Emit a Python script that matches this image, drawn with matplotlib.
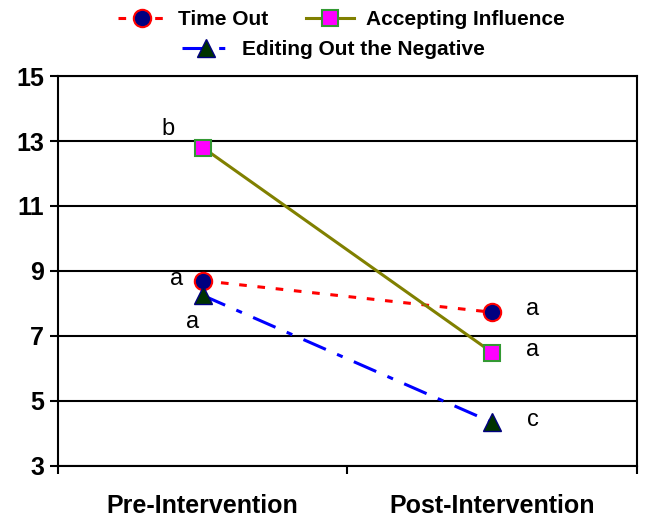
import matplotlib.pyplot as plt

categories = ["Pre-Intervention", "Post-Intervention"]
time_out = [8.7, 7.73]
accepting = [12.8, 6.49]
editing = [8.25, 4.34]
labels_pre = ["a", "b", "a"]
labels_post = ["a", "a", "c"]
yticks = [3, 5, 7, 9, 11, 13, 15]

plt.rcParams['font.family'] = ['Liberation Sans', 'DejaVu Sans']

fig = plt.figure(figsize=(6.49, 5.26), dpi=100)
ax = fig.add_axes([0.0894, 0.1141, 0.892, 0.7414])

x = list(range(len(categories)))

l1, = ax.plot(x, time_out, color="red", linestyle=(0, (2.5, 3.5)), linewidth=2.2,
              marker="o", markersize=12.5, markerfacecolor="#000080",
              markeredgecolor="red", markeredgewidth=1.5, label="Time Out", zorder=4)
l2, = ax.plot(x, accepting, color="#808000", linestyle="-", linewidth=2.2,
              marker="s", markersize=11.5, markerfacecolor="#ff00ff",
              markeredgecolor="#339933", markeredgewidth=1.5, label="Accepting Influence", zorder=4)
l3, = ax.plot(x, editing, color="blue", linestyle=(0, (8, 4, 2, 4)), linewidth=2.2,
              marker="^", markersize=12.5, markerfacecolor="#003300",
              markeredgecolor="#000080", markeredgewidth=1, label="Editing Out the Negative", zorder=5)

# letter labels next to the points
ax.annotate(labels_pre[0], (x[0], time_out[0]), xytext=(-19, 1), textcoords="offset points",
            fontsize=17, ha="center", va="center")
ax.annotate(labels_pre[1], (x[0], accepting[0]), xytext=(-25, 13), textcoords="offset points",
            fontsize=17, ha="center", va="center")
ax.annotate(labels_pre[2], (x[0], editing[0]), xytext=(-7, -19), textcoords="offset points",
            fontsize=17, ha="center", va="center")
for val, lab in zip([time_out[1], accepting[1], editing[1]], labels_post):
    ax.annotate(lab, (x[1], val), xytext=(29, 2), textcoords="offset points",
                fontsize=17, ha="center", va="center")

ax.set_xlim(-0.5, 1.5)
ax.set_ylim(3, 15)
ax.set_yticks(yticks)
ax.set_yticklabels([str(t) for t in yticks], fontsize=18, fontweight="bold")
ax.set_xticks([-0.5, 0.5, 1.5])
ax.set_xticklabels([])
ax.set_xticks(x, minor=True)
ax.set_xticklabels(categories, minor=True, fontsize=18, fontweight="bold")
ax.tick_params(axis="x", which="minor", length=0, pad=20)
ax.tick_params(axis="x", which="major", length=6, width=1.5, direction="out")
ax.tick_params(axis="y", length=6, width=1.5, direction="out", pad=4)

ax.grid(axis="y", color="black", linewidth=1.5)
for s in ax.spines.values():
    s.set_linewidth(1.5)

leg_kw = dict(frameon=False, prop={"weight": "bold", "size": 15}, handlelength=2.3,
              handletextpad=0.6, borderpad=0)
fig.legend(handles=[l1, l2], loc="center", bbox_to_anchor=(0.526, 0.962), ncol=2,
           columnspacing=1.8, **leg_kw)
fig.legend(handles=[l3], loc="center", bbox_to_anchor=(0.514, 0.905), **leg_kw)

fig.savefig("out.png", dpi=100)
